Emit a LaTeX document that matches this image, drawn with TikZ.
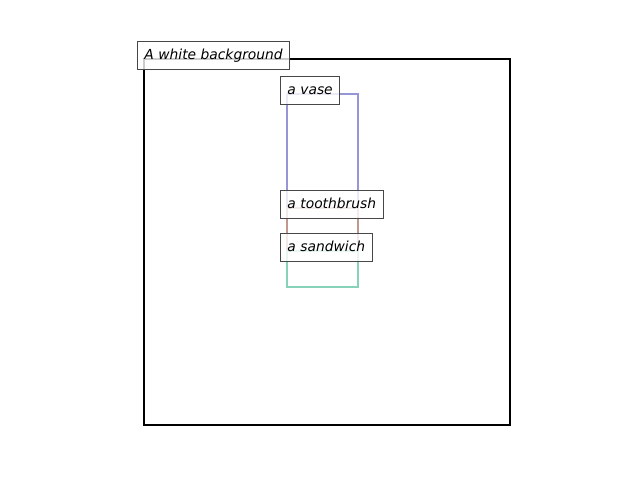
\documentclass[tikz,border=0pt]{standalone}
\usepackage{fontspec}
\setmainfont{DejaVu Sans}
\usepackage{xcolor}
\usepackage{tikz}
\usetikzlibrary{positioning}

\definecolor{vasecol}{RGB}{150,150,215}
\definecolor{brushcol}{RGB}{192,152,142}
\definecolor{sandcol}{RGB}{135,210,185}

\newcommand{\px}{*0.72bp}
\tikzset{
  region/.style={line width=2bp},
  tag/.style={draw=black!72, fill=white, fill opacity=0.8, text opacity=1,
    line width=0.7bp, font=\fontsize{10}{12}\selectfont\itshape,
    inner xsep=7\px, inner ysep=3\px, text height=16\px, text depth=6\px,
    anchor=base west, xshift=-7\px},
}

\begin{document}
\begin{tikzpicture}[x=0.72bp, y=-0.72bp]
  \useasboundingbox (0,0) rectangle (640,480);
  % Corners of the regions
  \coordinate (bgTL) at (144,59);
  \coordinate (bgBR) at (510,425);
  \coordinate (vaseTL) at (287,94);
  \coordinate (brushTL) at (287,208);
  \coordinate (sandTL) at (287,251);
  \coordinate (objBR) at (358,287);
  % Regions
  \draw[region, black] (bgTL) rectangle (bgBR);
  \draw[region, vasecol] (vaseTL) rectangle (objBR);
  \draw[region, brushcol] (brushTL) rectangle (objBR);
  \draw[region, sandcol] (sandTL) rectangle (objBR);
  % Labels
  \node[tag] (bgLabel) at ([yshift=-1\px]bgTL) {A white background};
  \node[tag] (vaseLabel) at ([yshift=-1\px]vaseTL) {a vase};
  \node[tag] (brushLabel) at ([yshift=-1\px]brushTL) {a toothbrush};
  \node[tag] (sandLabel) at ([yshift=-1\px]sandTL) {a sandwich};
\end{tikzpicture}
\end{document}
